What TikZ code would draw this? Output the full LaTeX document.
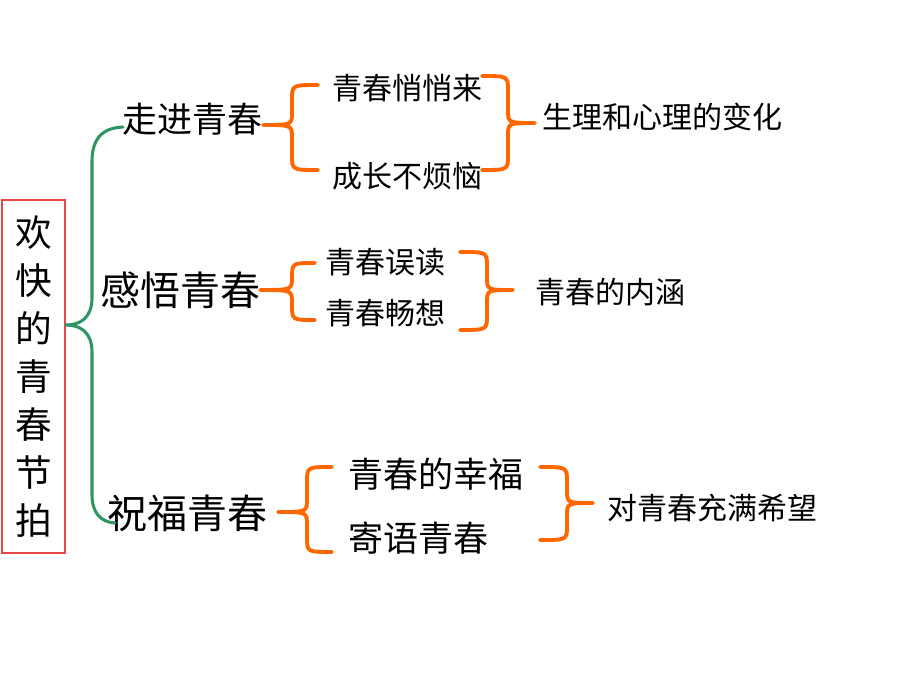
\documentclass[tikz,border=0pt]{standalone}
\usepackage{fontspec}
\setmainfont{Noto Sans CJK SC}
\definecolor{braceorange}{RGB}{255,102,0}
\definecolor{bracegreen}{RGB}{46,150,100}
\definecolor{boxred}{RGB}{232,70,70}
\newcommand{\fs}[1]{\fontsize{#1}{#1}\selectfont}
% brace: top-end x, top y, vertical x, tip x, tip y, bottom y
\newcommand{\braceL}[6]{%
  \draw[orbrace] (#1,#2) .. controls (#3,#2) .. (#3,#2+15) -- (#3,#5-13)
    .. controls (#3,#5) .. (#4,#5) .. controls (#3,#5) .. (#3,#5+13) -- (#3,#6-15)
    .. controls (#3,#6) .. (#1,#6);}
\begin{document}
\begin{tikzpicture}[x=0.75pt,y=-0.75pt,
  orbrace/.style={draw=braceorange,line width=2.9pt,line cap=round,line join=round},
  grbrace/.style={draw=bracegreen,line width=2.3pt,line cap=round,line join=round},
  lbl/.style={inner sep=0pt,anchor=west}]
\useasboundingbox (0,0) rectangle (920,690);
\fill[white] (0,0) rectangle (920,690);
% title box
\node (title) [draw=boxred,line width=0.8pt,minimum width=47.25pt,minimum height=264.75pt,
  inner sep=0pt,align=center,font=\fontsize{27.5}{36}\selectfont] at (33.5,376.5)
  {欢\\快\\的\\青\\春\\节\\拍};
% branch labels
\node (b1) [lbl,font=\fs{26.25}] at (122,119) {走进青春};
\node (b2) [lbl,font=\fs{30}] at (100,290) {感悟青春};
\node (b3) [lbl,font=\fs{30}] at (107,513) {祝福青春};
% group 1
\node (a1) [lbl,font=\fs{22.5}] at (332,88) {青春悄悄来};
\node (a2) [lbl,font=\fs{22.5}] at (332,176) {成长不烦恼};
\node (r1) [lbl,font=\fs{22.5}] at (542,117) {生理和心理的变化};
% group 2
\node (c1) [lbl,font=\fs{22.5}] at (325,262) {青春误读};
\node (c2) [lbl,font=\fs{22.5}] at (325,313) {青春畅想};
\node (r2) [lbl,font=\fs{22.5}] at (535,292) {青春的内涵};
% group 3
\node (d1) [lbl,font=\fs{26.25}] at (348,474) {青春的幸福};
\node (d2) [lbl,font=\fs{26.25}] at (348,538) {寄语青春};
\node (r3) [lbl,font=\fs{22.5}] at (607,508) {对青春充满希望};
% green brace
\draw[grbrace] (123,127) .. controls (97,128) and (92,145) .. (92,162) -- (92,298)
  .. controls (92,318) and (80,325) .. (66,325)
  .. controls (80,325) and (92,332) .. (92,352) -- (92,495)
  .. controls (92,512) and (100,522) .. (115,523);
% orange braces
\braceL{318}{85}{292}{263}{125}{170}
\braceL{482}{76}{508}{535}{123}{170}
\braceL{315}{263}{292}{260}{290}{320}
\braceL{460}{252}{487}{513}{290}{330}
\braceL{332}{467}{307}{278}{512}{552}
\braceL{540}{467}{567}{593}{503}{540}
\end{tikzpicture}
\end{document}
